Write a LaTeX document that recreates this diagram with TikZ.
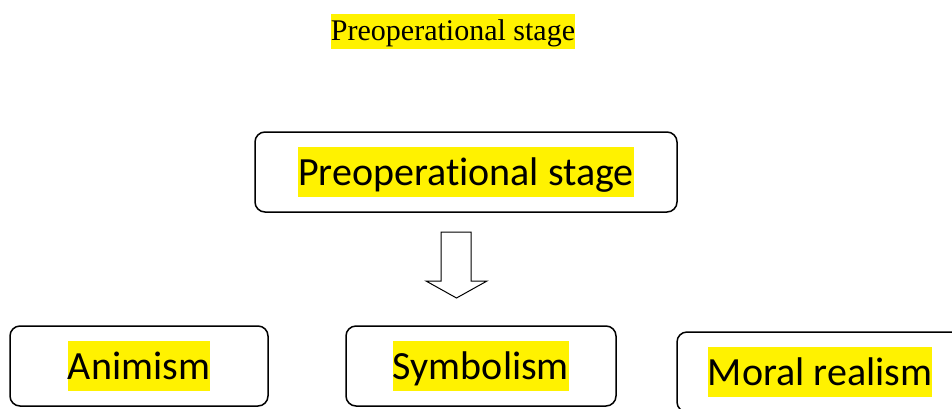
\documentclass[tikz,border=0pt]{standalone}
\usepackage{fontspec}
\setmainfont{Liberation Serif}
\newfontfamily\calibri[Ligatures=NoCommon]{Carlito}
\newcommand{\hlbox}[1]{{\setlength{\fboxsep}{0pt}\colorbox{yellow}{\rule[-0.3em]{0pt}{1.25em}#1}}}

\begin{document}
\begin{tikzpicture}[x=1pt,y=-1pt]
        \useasboundingbox (0,0) rectangle (952,408);
        \node[inner sep=0pt,font=\fontsize{30}{36}\selectfont] (title) at (453,31.5)
            {\setlength{\fboxsep}{0pt}\colorbox{yellow}{\rule[-0.3em]{0pt}{1.17em}Preoperational stage}};
        \begin{scope}
            \tikzstyle{every node}=[draw,rounded corners=10pt,line width=1.5pt,inner sep=0pt,minimum height=80pt,font=\calibri\fontsize{40}{49}\selectfont]

            \node[minimum width=422pt] (stage) at (466,172) {\hlbox{Preoperational stage}};
            \node[minimum width=258pt] (anim) at (139,366) {\hlbox{Animism}};
            \node[minimum width=270pt] (symb) at (481,366) {\hlbox{Symbolism}};
            \node[minimum width=286pt] (moral) at (820,372) {\hlbox{Moral realism}};
        \end{scope}
        % hollow block arrow below the stage box
        \draw[line width=1pt] (441,232) -- (471,232) -- (471,281) -- (487,281) -- (456.5,298) -- (426,281) -- (441,281) -- cycle;
    \end{tikzpicture}
\end{document}
